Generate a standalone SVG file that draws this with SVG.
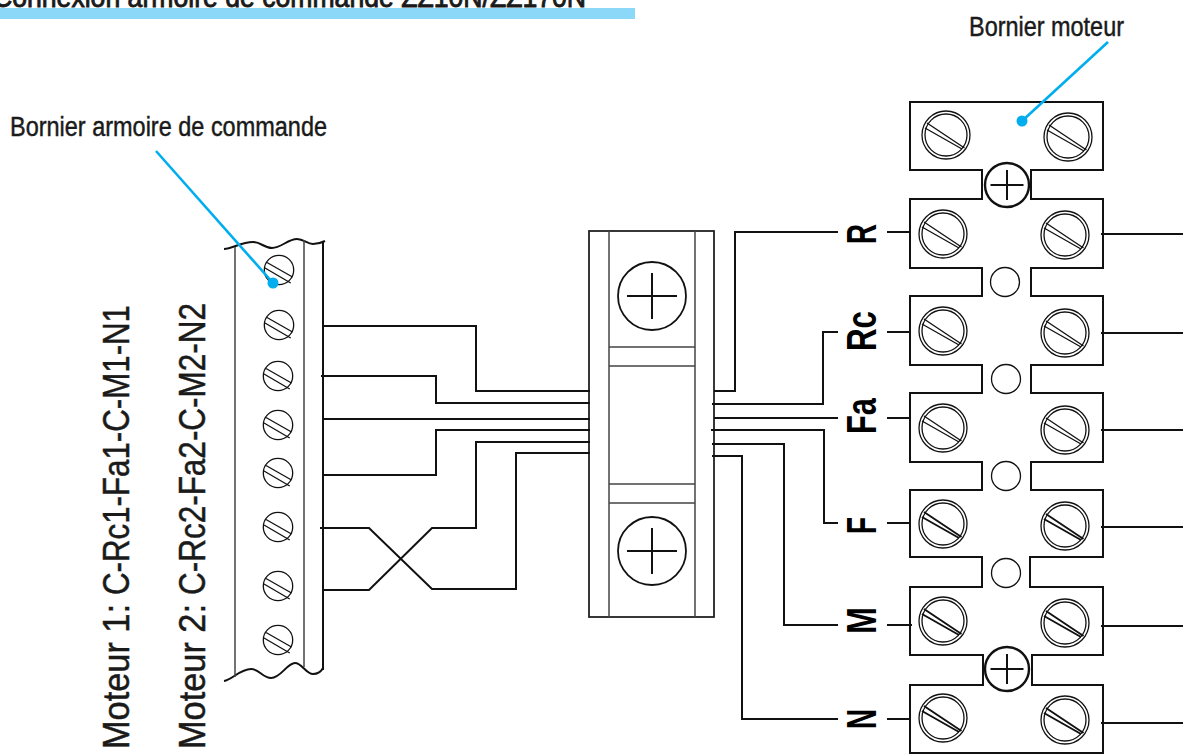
<svg xmlns="http://www.w3.org/2000/svg" width="1183" height="754" viewBox="0 0 1183 754">
<style>
text{font-family:"Liberation Sans",Arial,sans-serif;fill:#1a1a1a}
.lab{font-size:27px;stroke:#1a1a1a;stroke-width:.45}
.side{font-size:37px;stroke:#1a1a1a;stroke-width:.5}
.b{font-size:42px;font-weight:bold;fill:#000}
.w{fill:none;stroke:#111;stroke-width:2}
.t{fill:none;stroke:#111;stroke-width:2}
.g{fill:none;stroke:#444;stroke-width:1.5}
.c{fill:#fff;stroke:#111;stroke-width:1.3}
.n{fill:none;stroke:#111;stroke-width:1.3}
.h{fill:none;stroke:#111;stroke-width:1.9}
.blue{fill:none;stroke:#00aeef;stroke-width:2.6}
</style>
<defs>
<g id="s1"><circle r="14.7" class="c"/><path d="M-12,-7.5 L13.5,7 M-14,-2 L11.7,13" class="n"/></g>
<g id="s2"><circle r="24" class="c"/><circle r="21" class="c"/><path d="M-19,-12 L18.5,13 M-21,-7 L16,14" class="n"/></g>
<g id="s3"><circle r="24" class="c"/><circle r="21" class="c"/><path d="M-19,-12 L18.5,13 M-21,-7 L16,14" class="h"/></g>
<g id="ph"><circle r="22" fill="#fff" stroke="#111" stroke-width="2.4"/><path d="M0,-15 V15 M-16.5,0 H16.5" class="t"/></g>
<g id="big"><circle r="34" fill="#fff" stroke="#111" stroke-width="1.8"/><path d="M0,-23 V23 M-25,0 H25" class="t"/></g>
</defs>
<g id="title">
<rect x="0" y="8" width="635" height="11" fill="#8cd8f8"/>
<text x="-7" y="7" font-size="29" style="stroke:#1a1a1a;stroke-width:.9" textLength="593" lengthAdjust="spacingAndGlyphs">Connexion armoire de commande ZZ10N/ZZ170N</text>
</g>
<g id="label-armoire"><text class="lab" x="10" y="136" textLength="317" lengthAdjust="spacingAndGlyphs">Bornier armoire de commande</text></g>
<g id="label-moteur"><text class="lab" x="969" y="36" textLength="155" lengthAdjust="spacingAndGlyphs">Bornier moteur</text></g>
<g id="moteur1"><text class="side" transform="translate(129,749) rotate(-90)"><tspan textLength="145" lengthAdjust="spacingAndGlyphs">Moteur 1:</tspan><tspan x="154" textLength="290" lengthAdjust="spacingAndGlyphs">C-Rc1-Fa1-C-M1-N1</tspan></text></g>
<g id="moteur2"><text class="side" transform="translate(205,749) rotate(-90)"><tspan textLength="145" lengthAdjust="spacingAndGlyphs">Moteur 2:</tspan><tspan x="154" textLength="292" lengthAdjust="spacingAndGlyphs">C-Rc2-Fa2-C-M2-N2</tspan></text></g>

<g id="bornier-armoire">
<path d="M224,249 C232,249 241,242 253,242 C261,242 264,248 272,248 C281,248 288,239 297,239 C304,239 307,244 313,244 C318,244 321,243 325,241" class="t"/>
<path d="M224,681 C232,680 240,669 251,669 C259,669 263,678 271,678 C281,678 287,663 295,663 C302,663 306,674 313,674 C318,674 321,672 323,668" class="t"/>
<path d="M235,247 V677" class="g"/><path d="M304,240 V667" class="g"/><path d="M323,241 V670" class="t"/>
<use href="#s1" x="279" y="270"/><use href="#s1" x="279" y="325"/><use href="#s1" x="278" y="376"/><use href="#s1" x="278" y="425"/><use href="#s1" x="278" y="473"/><use href="#s1" x="278" y="527"/><use href="#s1" x="278" y="586"/><use href="#s1" x="278" y="640"/>
</g>

<g id="bornier-central">
<rect x="589" y="231" width="125" height="386" fill="#fff" stroke="#222" stroke-width="1.8"/>
<path d="M609,231 V617 M695,231 V617 M609,347 H695 M609,366 H695 M609,484 H695 M609,503 H695" class="g"/>
<use href="#big" x="652" y="296"/><use href="#big" x="652" y="551"/>
</g>

<g id="bornier-moteur">
<path d="M910,102 H1103 V170 H1031 V199 H1103 V268 H1031 V296 H1103 V365 H1031 V393 H1103 V462 H1031 V490 H1103 V557 H1030 V587 H1103 V655 H1032 V685 H1103 V753 H910 V685 H983 V655 H910 V587 H982 V557 H910 V490 H982 V462 H910 V393 H982 V365 H910 V296 H982 V268 H910 V199 H982 V170 H910 Z" fill="#fff" stroke="#111" stroke-width="2"/>
<use href="#ph" x="1007" y="185"/><use href="#ph" x="1007" y="669"/>
<circle cx="1005" cy="282" r="14.5" class="c"/><circle cx="1006" cy="379" r="14.5" class="c"/><circle cx="1006" cy="476" r="14.5" class="c"/><circle cx="1006" cy="573" r="14.5" class="c"/>
<use href="#s2" x="946" y="135"/><use href="#s2" x="1068" y="137"/>
<use href="#s2" x="943" y="234"/><use href="#s2" x="1065" y="235"/>
<use href="#s2" x="943" y="331"/><use href="#s2" x="1065" y="333"/>
<use href="#s2" x="943" y="428"/><use href="#s2" x="1065" y="430"/>
<use href="#s3" x="943" y="524"/><use href="#s3" x="1065" y="526"/>
<use href="#s3" x="943" y="621"/><use href="#s3" x="1065" y="623"/>
<use href="#s3" x="943" y="718"/><use href="#s3" x="1065" y="720"/>
</g>

<g id="labels-moteur">
<text class="b" transform="translate(876,244) rotate(-90)" textLength="20" lengthAdjust="spacingAndGlyphs">R</text>
<text class="b" transform="translate(876,351) rotate(-90)" textLength="40" lengthAdjust="spacingAndGlyphs">Rc</text>
<text class="b" transform="translate(876,434) rotate(-90)" textLength="36" lengthAdjust="spacingAndGlyphs">Fa</text>
<text class="b" transform="translate(876,534) rotate(-90)" textLength="17" lengthAdjust="spacingAndGlyphs">F</text>
<text class="b" transform="translate(876,634) rotate(-90)" textLength="27" lengthAdjust="spacingAndGlyphs">M</text>
<text class="b" transform="translate(876,729) rotate(-90)" textLength="20" lengthAdjust="spacingAndGlyphs">N</text>
</g>

<g id="connectors">
<path d="M323,326 H476 V391 H590" class="w"/>
<path d="M321,376 H436 V403 H590" class="w"/>
<path d="M323,419 H590" class="w"/>
<path d="M323,475 H436 V430 H590" class="w"/>
<path d="M320,528 H369 L432,589 H516 V453 H590" class="w"/>
<path d="M323,590 H369 L432,528 H476 V442 H590" class="w"/>
<path d="M714,391 H735 V232 H838" class="w"/>
<path d="M712,404 H823 V332 H838" class="w"/>
<path d="M714,418 H838" class="w"/>
<path d="M711,430 H824 V523 H838" class="w"/>
<path d="M712,444 H784 V625 H838" class="w"/>
<path d="M712,456 H742 V719 H838" class="w"/>
<path d="M887,232 H910 M887,332 H911 M887,418 H910 M887,523 H910 M887,625 H912 M887,719 H910" class="w"/>
<path d="M1101,234 H1183 M1101,333 H1183 M1101,430 H1183 M1101,527 H1183 M1101,626 H1183 M1101,723 H1183" class="w"/>
</g>
<g id="callouts">
<path d="M156,151 L273,283" class="blue"/><circle cx="273" cy="283" r="5.5" fill="#00aeef"/>
<path d="M1108,42 L1022,121" class="blue"/><circle cx="1022" cy="121" r="5.5" fill="#00aeef"/>
</g>
</svg>
